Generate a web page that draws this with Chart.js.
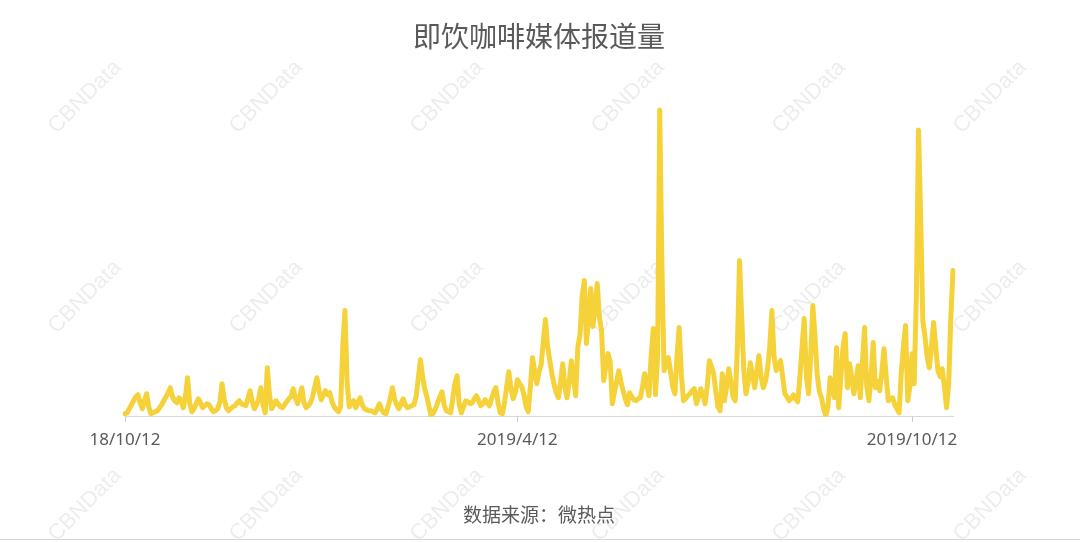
<!DOCTYPE html>
<html>
<head>
<meta charset="utf-8">
<script src="https://cdn.jsdelivr.net/npm/chart.js@4/dist/chart.umd.min.js"></script>
<style>
  html, body { margin: 0; padding: 0; background: #ffffff; }
  #wrap { width: 1080px; height: 542px; position: relative; }
</style>
</head>
<body>
<div id="wrap"><canvas id="c" width="1080" height="542"></canvas></div>
<script>
// ---- data ----
const startDate = '2018-10-12';
const mediaCount = [
  3,4,8,12,16,20,22,14,8,16,
  23,10,3,4,5,6,9,12,16,20,
  24,29,20,16,14,19,17,9,20,39,
  14,5,8,13,18,14,9,11,13,12,
  8,5,6,8,15,33,18,9,6,8,
  10,11,14,16,13,12,11,18,26,15,
  8,12,18,29,12,4,49,22,8,12,
  16,13,10,9,12,15,18,20,28,19,
  13,20,29,14,9,11,14,20,30,39,
  26,17,22,26,22,24,15,10,7,5,
  10,70,106,35,10,14,16,9,14,19,
  12,8,7,6,6,5,4,8,13,7,
  4,3,10,18,29,18,12,8,13,18,
  12,9,10,11,12,20,38,57,40,28,
  20,10,1,4,8,14,20,25,12,6,
  5,4,18,33,41,12,4,10,16,15,
  13,14,18,21,16,11,13,17,14,11,
  18,25,29,14,4,3,14,30,45,28,
  18,24,37,33,30,22,10,5,30,59,
  45,33,45,52,75,97,70,56,43,32,
  24,19,35,53,30,19,35,56,38,21,
  70,81,120,136,73,100,128,90,110,133,
  100,86,36,50,63,55,13,25,35,46,
  35,26,18,12,24,20,17,16,18,19,
  30,43,32,21,60,88,22,60,306,150,
  46,52,59,45,30,23,60,89,43,16,
  18,21,23,26,28,13,20,28,22,13,
  30,56,50,43,25,10,6,43,16,30,
  48,35,20,16,70,156,100,45,23,35,
  54,42,29,45,61,40,29,35,48,70,
  106,60,46,50,56,40,23,20,16,18,
  22,18,15,40,70,98,40,23,60,111,
  80,43,25,19,8,1,10,39,30,19,
  69,9,40,70,83,29,53,40,23,35,
  51,19,55,89,30,16,40,74,29,35,
  26,45,68,40,16,18,19,12,8,4,
  44,70,91,16,30,63,33,120,286,200,
  96,80,60,49,70,94,70,46,40,48,
  30,9,33,100,146
];
const tickDates = ['2018-10-12', '2019-04-12', '2019-10-12'];
const tickLabels = ['18/10/12', '2019/4/12', '2019/10/12'];
const titleText = '即饮咖啡媒体报道量';
const sourceText = '数据来源：微热点';
const watermarkText = 'CBNData';

// categories: one per day from the start date
function isoDay(ts) { return new Date(ts).toISOString().slice(0, 10); }
const t0 = Date.parse(startDate + 'T00:00:00Z');
const categories = mediaCount.map((v, i) => isoDay(t0 + i * 86400000));
const tickIndex = tickDates.map(d => categories.indexOf(d));

const cjk = '"Noto Sans CJK SC", "Noto Sans", sans-serif';

const decor = {
  id: 'decor',
  beforeDraw(chart) {
    const ctx = chart.ctx;
    ctx.save();
    ctx.fillStyle = '#ffffff';
    ctx.fillRect(0, 0, chart.width, chart.height);
    ctx.font = '22px "Liberation Sans", Arial, sans-serif';
    ctx.fillStyle = 'rgba(0,0,0,0.075)';
    ctx.textAlign = 'center';
    ctx.textBaseline = 'middle';
    const xs = [85, 266, 447, 628, 809, 990];
    const ys = [97, 297, 505];
    ys.forEach(y => xs.forEach(x => {
      ctx.save();
      ctx.translate(x, y);
      ctx.rotate(-Math.PI / 4);
      ctx.fillText(watermarkText, 0, 0);
      ctx.restore();
    }));
    ctx.strokeStyle = '#d6d6d6';
    ctx.lineWidth = 1;
    ctx.beginPath();
    ctx.moveTo(0, 539.5);
    ctx.lineTo(chart.width, 539.5);
    ctx.stroke();
    ctx.restore();
  }
};

new Chart(document.getElementById('c'), {
  type: 'line',
  data: {
    labels: categories,
    datasets: [{
      data: mediaCount,
      borderColor: 'rgb(245,210,58)',
      borderWidth: 5,
      pointRadius: 0,
      pointHoverRadius: 0,
      tension: 0,
      fill: false,
      borderJoinStyle: 'round',
      borderCapStyle: 'round'
    }]
  },
  options: {
    responsive: false,
    animation: false,
    devicePixelRatio: 1,
    layout: { padding: { left: 125, right: 127, top: 0, bottom: 0 } },
    plugins: {
      legend: { display: false },
      tooltip: { enabled: false },
      title: {
        display: true,
        text: titleText,
        color: '#595959',
        font: { family: cjk, size: 28, weight: 'normal', lineHeight: 1.2 },
        padding: { top: 20, bottom: 42.4 }
      },
      subtitle: {
        display: true,
        position: 'bottom',
        text: sourceText,
        color: '#595959',
        font: { family: cjk, size: 19, weight: 'normal', lineHeight: 1.2 },
        padding: { top: 45, bottom: 16 }
      }
    },
    scales: {
      x: {
        type: 'category',
        offset: false,
        grid: {
          display: true,
          drawOnChartArea: false,
          drawTicks: true,
          tickLength: 5,
          color: ctx => tickIndex.includes(ctx.index) ? '#c8c8c8' : 'rgba(0,0,0,0)'
        },
        border: { display: true, color: '#d9d9d9', width: 1 },
        ticks: {
          autoSkip: false,
          maxRotation: 0,
          minRotation: 0,
          padding: 8,
          color: '#595959',
          font: { family: '"Noto Sans", sans-serif', size: 17 },
          callback: function (value, index) {
            const k = tickIndex.indexOf(index);
            return k >= 0 ? tickLabels[k] : '';
          }
        }
      },
      y: {
        display: false,
        min: 0,
        max: 320
      }
    }
  },
  plugins: [decor]
});
</script>
</body>
</html>
